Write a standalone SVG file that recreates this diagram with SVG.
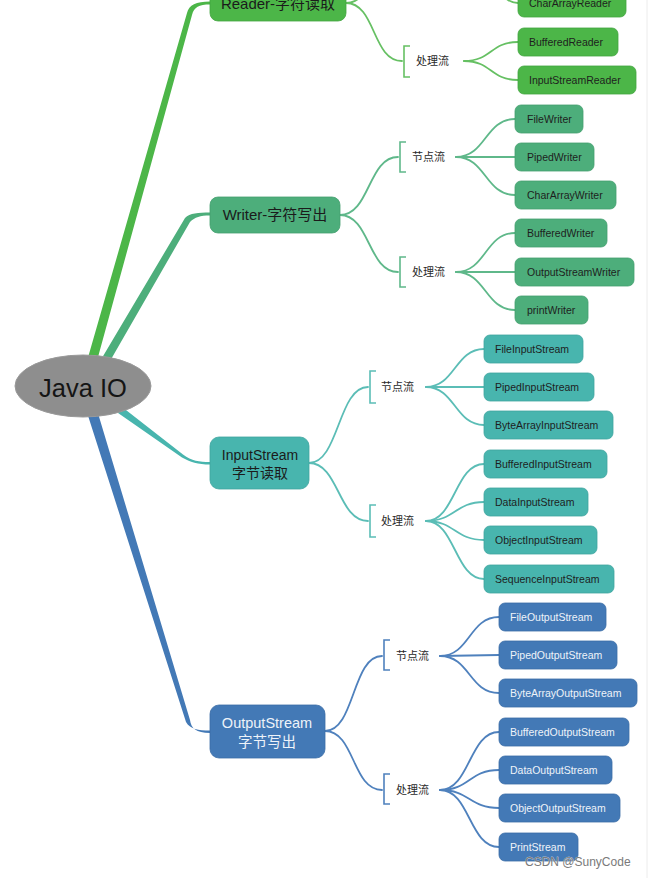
<svg xmlns="http://www.w3.org/2000/svg" width="654" height="878" viewBox="0 0 654 878">
<style>
text{font-family:"Liberation Sans","Noto Sans CJK SC",sans-serif}
.main{font-size:15px;fill:#1b1b1b;text-anchor:middle}
.main2{font-size:14px;fill:#1b1b1b;text-anchor:middle}
.mainw{font-size:14.5px;fill:#eef3f9;text-anchor:middle}
.sub{font-size:11px;fill:#2a2a2a}
.leaf{font-size:10.5px;fill:#1e1e1e}
.leafw{font-size:10.5px;fill:#eef3f9}
.c{fill:none;stroke-width:1.8;stroke-linecap:round}
.br{fill:none;stroke-width:1.6}
.rd{fill:#4cb648;stroke:#43a540;stroke-width:0.8}
.wr{fill:#4dae7b;stroke:#449f6f;stroke-width:0.8}
.in{fill:#48b5ae;stroke:#3fa59f;stroke-width:0.8}
.ou{fill:#4379b6;stroke:#3a6ca6;stroke-width:0.8}
.crd{stroke:#66c063}
.cwr{stroke:#5fb88a}
.cin{stroke:#5bbdb6}
.cou{stroke:#4f81bd}
</style>
<rect x="0" y="0" width="654" height="878" fill="#ffffff"/>
<line x1="647" y1="0" x2="647" y2="878" stroke="#ececec" stroke-width="1"/>

<g id="connectors">
  <!-- thick branches from Java IO -->
  <path d="M85,368 L187,13 C189,5 196,1.5 210,1.5 L210,4.5 C199,4.5 194,7 192,15 L95,368 Z" fill="#4cb648"/>
  <path d="M96,368 L185,218 C190,213 198,212.5 210,212.5 L210,215.5 C200,215.5 195,217 190,222 L106,368 Z" fill="#4dae7b"/>
  <path d="M108,396 L183,454.5 C192,461 199,462 210,462 L210,464.5 C198,464.5 190,462 182,457.5 L108,406 Z" fill="#48b5ae"/>
  <path d="M83,400 L186,722 C190,729 198,730.5 210,730.5 L210,733 C196,733 191,728 190,720 L94,400 Z" fill="#4379b6"/>

  <!-- Reader -->
  <path class="c crd" d="M346,3 C376,3 372,-55 402,-55"/>
  <path class="c crd" d="M346,3 C376,3 372,61 402,61"/>
  <path class="c crd" d="M464,-55 C492,-55 490,3 518,3"/>
  <path class="c crd" d="M464,61 C492,61 490,42 518,42"/>
  <path class="c crd" d="M464,61 C492,61 490,80 518,80"/>
  <path class="br crd" d="M410,46 H404 V77 H410"/>

  <!-- Writer -->
  <path class="c cwr" d="M340,215 C370,215 368,157 398,157"/>
  <path class="c cwr" d="M340,215 C370,215 368,272 398,272"/>
  <path class="br cwr" d="M406,142 H400 V172 H406"/>
  <path class="br cwr" d="M406,257 H400 V287 H406"/>
  <path class="c cwr" d="M456,157 C486,157 485,119 515,119"/>
  <path class="c cwr" d="M456,157 L515,157"/>
  <path class="c cwr" d="M456,157 C486,157 485,195 515,195"/>
  <path class="c cwr" d="M456,272 C486,272 485,233 515,233"/>
  <path class="c cwr" d="M456,272 L515,272"/>
  <path class="c cwr" d="M456,272 C486,272 485,310 515,310"/>

  <!-- InputStream -->
  <path class="c cin" d="M309,463 C339,463 338,387 368,387"/>
  <path class="c cin" d="M309,463 C339,463 338,521 368,521"/>
  <path class="br cin" d="M376,371 H370 V403 H376"/>
  <path class="br cin" d="M376,505 H370 V537 H376"/>
  <path class="c cin" d="M426,387 C455,387 455,349 484,349"/>
  <path class="c cin" d="M426,387 L484,387"/>
  <path class="c cin" d="M426,387 C455,387 455,425 484,425"/>
  <path class="c cin" d="M426,521 C455,521 455,464 484,464"/>
  <path class="c cin" d="M426,521 C455,521 455,502 484,502"/>
  <path class="c cin" d="M426,521 C455,521 455,540 484,540"/>
  <path class="c cin" d="M426,521 C455,521 455,579 484,579"/>

  <!-- OutputStream -->
  <path class="c cou" d="M325,731 C355,731 352,656 382,656"/>
  <path class="c cou" d="M325,731 C355,731 352,790 382,790"/>
  <path class="br cou" d="M390,640 H384 V670 H390"/>
  <path class="br cou" d="M390,774 H384 V804 H390"/>
  <path class="c cou" d="M440,656 C470,656 469,617 499,617"/>
  <path class="c cou" d="M440,656 L499,655"/>
  <path class="c cou" d="M440,656 C470,656 469,693 499,693"/>
  <path class="c cou" d="M440,790 C470,790 469,732 499,732"/>
  <path class="c cou" d="M440,790 C470,790 469,770 499,770"/>
  <path class="c cou" d="M440,790 C470,790 469,808 499,808"/>
  <path class="c cou" d="M440,790 C470,790 469,847 499,847"/>
</g>

<g id="root">
  <ellipse cx="83" cy="386" rx="68" ry="31" fill="#8e8e8e" stroke="#9a9a9a" stroke-width="1"/>
  <text x="83" y="397" font-size="25.5" fill="#151515" text-anchor="middle">Java IO</text>
</g>

<!-- Reader -->
<g id="reader">
  <rect class="rd" x="210" y="-15" width="136" height="36" rx="8"/>
  <text class="main" x="278" y="9">Reader-字符读取</text>
</g>
<g id="reader-proc"><text class="sub" x="416" y="65">处理流</text></g>
<g id="CharArrayReader"><rect class="rd" x="518" y="-11" width="108" height="28" rx="6"/><text class="leaf" x="529" y="7">CharArrayReader</text></g>
<g id="BufferedReader"><rect class="rd" x="518" y="28" width="100" height="28" rx="6"/><text class="leaf" x="529" y="46">BufferedReader</text></g>
<g id="InputStreamReader"><rect class="rd" x="518" y="66" width="118" height="28" rx="6"/><text class="leaf" x="529" y="84">InputStreamReader</text></g>

<!-- Writer -->
<g id="writer">
  <rect class="wr" x="210" y="197" width="130" height="36" rx="8"/>
  <text class="main" x="275" y="220">Writer-字符写出</text>
</g>
<g id="writer-node"><text class="sub" x="412" y="161">节点流</text></g>
<g id="writer-proc"><text class="sub" x="412" y="276">处理流</text></g>
<g id="FileWriter"><rect class="wr" x="515" y="105" width="68" height="28" rx="6"/><text class="leaf" x="527" y="123">FileWriter</text></g>
<g id="PipedWriter"><rect class="wr" x="515" y="143" width="79" height="28" rx="6"/><text class="leaf" x="527" y="161">PipedWriter</text></g>
<g id="CharArrayWriter"><rect class="wr" x="515" y="181" width="101" height="28" rx="6"/><text class="leaf" x="527" y="199">CharArrayWriter</text></g>
<g id="BufferedWriter"><rect class="wr" x="515" y="219" width="92" height="28" rx="6"/><text class="leaf" x="527" y="237">BufferedWriter</text></g>
<g id="OutputStreamWriter"><rect class="wr" x="515" y="258" width="119" height="28" rx="6"/><text class="leaf" x="527" y="276">OutputStreamWriter</text></g>
<g id="printWriter"><rect class="wr" x="515" y="296" width="73" height="28" rx="6"/><text class="leaf" x="527" y="314">printWriter</text></g>

<!-- InputStream -->
<g id="inputstream">
  <rect class="in" x="210" y="437" width="99" height="52" rx="9"/>
  <text class="main2" x="260" y="460">InputStream</text>
  <text class="main2" x="260" y="478">字节读取</text>
</g>
<g id="input-node"><text class="sub" x="381" y="391">节点流</text></g>
<g id="input-proc"><text class="sub" x="381" y="525">处理流</text></g>
<g id="FileInputStream"><rect class="in" x="484" y="335" width="99" height="28" rx="6"/><text class="leaf" x="495" y="353">FileInputStream</text></g>
<g id="PipedInputStream"><rect class="in" x="484" y="373" width="110" height="28" rx="6"/><text class="leaf" x="495" y="391">PipedInputStream</text></g>
<g id="ByteArrayInputStream"><rect class="in" x="484" y="411" width="129" height="28" rx="6"/><text class="leaf" x="495" y="429">ByteArrayInputStream</text></g>
<g id="BufferedInputStream"><rect class="in" x="484" y="450" width="123" height="28" rx="6"/><text class="leaf" x="495" y="468">BufferedInputStream</text></g>
<g id="DataInputStream"><rect class="in" x="484" y="488" width="104" height="28" rx="6"/><text class="leaf" x="495" y="506">DataInputStream</text></g>
<g id="ObjectInputStream"><rect class="in" x="484" y="526" width="113" height="28" rx="6"/><text class="leaf" x="495" y="544">ObjectInputStream</text></g>
<g id="SequenceInputStream"><rect class="in" x="484" y="565" width="130" height="28" rx="6"/><text class="leaf" x="495" y="583">SequenceInputStream</text></g>

<!-- OutputStream -->
<g id="outputstream">
  <rect class="ou" x="210" y="705" width="115" height="53" rx="9"/>
  <text class="mainw" x="267" y="728">OutputStream</text>
  <text class="mainw" x="267" y="747">字节写出</text>
</g>
<g id="output-node"><text class="sub" x="396" y="660">节点流</text></g>
<g id="output-proc"><text class="sub" x="396" y="794">处理流</text></g>
<g id="FileOutputStream"><rect class="ou" x="499" y="603" width="107" height="28" rx="6"/><text class="leafw" x="510" y="621">FileOutputStream</text></g>
<g id="PipedOutputStream"><rect class="ou" x="499" y="641" width="118" height="28" rx="6"/><text class="leafw" x="510" y="659">PipedOutputStream</text></g>
<g id="ByteArrayOutputStream"><rect class="ou" x="499" y="679" width="138" height="28" rx="6"/><text class="leafw" x="510" y="697">ByteArrayOutputStream</text></g>
<g id="BufferedOutputStream"><rect class="ou" x="499" y="718" width="130" height="28" rx="6"/><text class="leafw" x="510" y="736">BufferedOutputStream</text></g>
<g id="DataOutputStream"><rect class="ou" x="499" y="756" width="113" height="28" rx="6"/><text class="leafw" x="510" y="774">DataOutputStream</text></g>
<g id="ObjectOutputStream"><rect class="ou" x="499" y="794" width="121" height="28" rx="6"/><text class="leafw" x="510" y="812">ObjectOutputStream</text></g>
<g id="PrintStream"><rect class="ou" x="499" y="833" width="79" height="28" rx="6"/><text class="leafw" x="510" y="851">PrintStream</text></g>

<text x="525" y="866" font-size="12" fill="#7a7a7a" stroke="#ffffff" stroke-width="0.4" paint-order="stroke">CSDN @SunyCode</text>
</svg>
